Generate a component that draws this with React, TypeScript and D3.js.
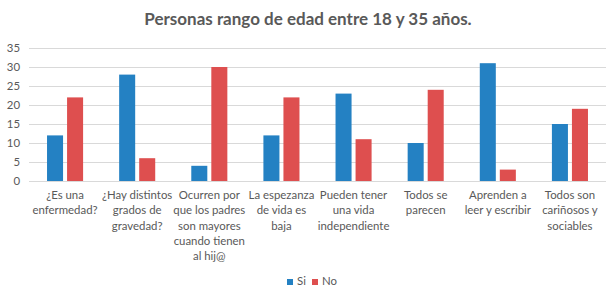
import { useEffect, useRef } from "react";
import * as d3 from "d3";

const categories = [
  "¿Es una\nenfermedad?",
  "¿Hay distintos\ngrados de\ngravedad?",
  "Ocurren por\nque los padres\nson mayores\ncuando tienen\nal hij@",
  "La espezanza\nde vida es\nbaja",
  "Pueden tener\nuna vida\nindependiente",
  "Todos se\nparecen",
  "Aprenden a\nleer y escribir",
  "Todos son\ncariñosos y\nsociables",
];
const series = ["Si", "No"];
const siValues = [12, 28, 4, 12, 23, 10, 31, 15];
const noValues = [22, 6, 30, 22, 11, 24, 3, 19];
const yTicks = [0, 5, 10, 15, 20, 25, 30, 35];
const title = "Personas rango de edad entre 18 y 35 años.";

const colors = ["#2481C3", "#DE4F4F"];
const textColor = "#595959";
const font = "Lato, 'Open Sans', sans-serif";

export default function App() {
  const ref = useRef<SVGSVGElement>(null);

  useEffect(() => {
    const width = 613;
    const height = 303;
    const m = { left: 29, right: 7, top: 48, bottom: 122 };

    const svg = d3.select(ref.current);
    svg.selectAll("*").remove();
    svg.attr("font-family", font);

    const x0 = d3
      .scaleBand()
      .domain(categories)
      .range([m.left, width - m.right]);
    const x1 = d3
      .scaleBand()
      .domain(series)
      .range([0, x0.bandwidth()])
      .paddingInner(0.2)
      .paddingOuter(0.9);
    const y = d3
      .scaleLinear()
      .domain([0, 35])
      .range([height - m.bottom, m.top]);

    // title
    svg
      .append("text")
      .attr("x", 308)
      .attr("y", 25)
      .attr("text-anchor", "middle")
      .attr("font-size", 17)
      .attr("font-weight", "bold")
      .attr("fill", textColor)
      .text(title);

    // gridlines + y labels
    const grid = svg.append("g");
    grid
      .selectAll("line")
      .data(yTicks)
      .join("line")
      .attr("x1", m.left)
      .attr("x2", width - m.right)
      .attr("y1", (d) => Math.round(y(d)) + 0.5)
      .attr("y2", (d) => Math.round(y(d)) + 0.5)
      .attr("stroke", "#D9D9D9")
      .attr("stroke-width", 1);
    grid
      .selectAll("text")
      .data(yTicks)
      .join("text")
      .attr("x", 20)
      .attr("y", (d) => y(d))
      .attr("dy", "0.35em")
      .attr("text-anchor", "end")
      .attr("font-size", 11.4)
      .attr("fill", textColor)
      .text((d) => d);

    // bars
    const rows = categories.map((c, i) => ({
      cat: c,
      vals: [siValues[i], noValues[i]],
    }));
    const groups = svg
      .append("g")
      .selectAll("g")
      .data(rows)
      .join("g")
      .attr("transform", (d) => `translate(${x0(d.cat)},0)`);
    groups
      .selectAll("rect")
      .data((d) => d.vals.map((v, j) => ({ s: series[j], v, j })))
      .join("rect")
      .attr("x", (d) => x1(d.s)!)
      .attr("width", x1.bandwidth())
      .attr("y", (d) => y(d.v))
      .attr("height", (d) => y(0) - y(d.v))
      .attr("fill", (d) => colors[d.j]);

    // category labels
    const labels = svg
      .append("g")
      .selectAll("text")
      .data(categories)
      .join("text")
      .attr("x", (d) => x0(d)! + x0.bandwidth() / 2)
      .attr("y", 199)
      .attr("text-anchor", "middle")
      .attr("font-size", 11.4)
      .attr("fill", textColor);
    labels
      .selectAll("tspan")
      .data((d) => d.split("\n"))
      .join("tspan")
      .attr("x", function () {
        return (this as SVGTSpanElement).parentElement!.getAttribute("x");
      })
      .attr("dy", (d, i) => (i === 0 ? 0 : 15.3))
      .text((d) => d);

    // legend
    const legend = svg
      .append("g")
      .selectAll("g")
      .data(series)
      .join("g")
      .attr("transform", (d, i) => `translate(${287 + i * 25},279)`);
    legend
      .append("rect")
      .attr("width", 6)
      .attr("height", 6)
      .attr("fill", (d, i) => colors[i]);
    legend
      .append("text")
      .attr("x", 10)
      .attr("y", 6)
      .attr("font-size", 11.4)
      .attr("fill", textColor)
      .text((d) => d);
  }, []);

  return (
    <svg
      ref={ref}
      width={613}
      height={303}
      style={{ position: "absolute", left: 0, top: 0, background: "#fff" }}
    />
  );
}
